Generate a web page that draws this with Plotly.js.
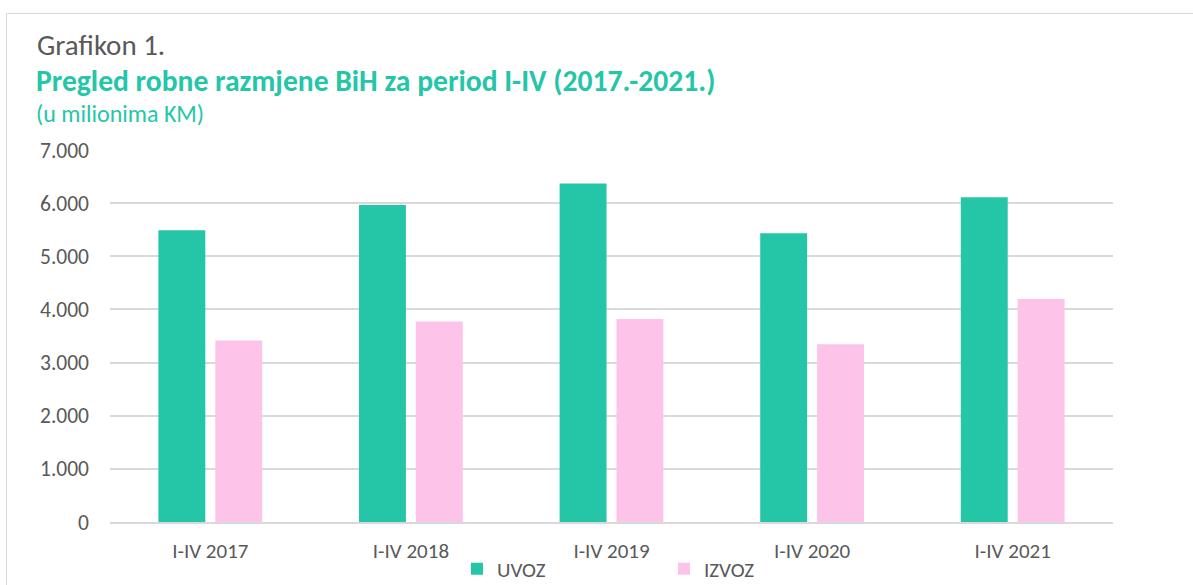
<!DOCTYPE html>
<html>
<head>
<meta charset="utf-8">
<script src="https://cdn.plot.ly/plotly-3.0.1.min.js"></script>
<style>
  html, body { margin: 0; padding: 0; background: #fff; }
  #wrap { position: relative; width: 1193px; height: 585px; overflow: hidden; }
  #chart { width: 1193px; height: 585px; }
  #frame { position: absolute; left: 6px; top: 13px; width: 1200px; height: 700px;
           border: 1.5px solid #D9D9D9; box-sizing: border-box; pointer-events: none; }
</style>
</head>
<body>
<div id="wrap">
  <div id="chart"></div>
  <div id="frame"></div>
</div>
<script>
const categories = ["I-IV 2017", "I-IV 2018", "I-IV 2019", "I-IV 2020", "I-IV 2021"];
const uvoz = [5490, 5965, 6371, 5433, 6109];
const izvoz = [3413, 3775, 3820, 3345, 4195];
const yTicks = [0, 1000, 2000, 3000, 4000, 5000, 6000, 7000];

const FONT = "Carlito, Lato, 'Open Sans', sans-serif";
const TEAL = "#24C6A7";
const PINK = "#FEC3E9";
const GREY = "#595959";

const data = [
  { type: "bar", name: "UVOZ", x: categories, y: uvoz, marker: { color: TEAL }, hoverinfo: "x+y" },
  { type: "bar", name: "IZVOZ", x: categories, y: izvoz, marker: { color: PINK }, hoverinfo: "x+y" }
];

const PH = 372, PW = 1003, ML = 110, MB = 63;
const py = (pix) => (585 - MB - pix) / PH;   // pixel y -> paper y
const px = (pix) => (pix - ML) / PW;          // pixel x -> paper x

const layout = {
  width: 1193, height: 585,
  paper_bgcolor: "#fff", plot_bgcolor: "#fff",
  separators: ",.",
  margin: { l: ML, r: 80, t: 150, b: MB, autoexpand: false },
  font: { family: FONT, color: GREY, size: 21 },
  barmode: "group",
  bargap: 0.433,
  bargroupgap: 0.175,
  showlegend: true,
  legend: {
    orientation: "h", xref: "paper", x: px(457), xanchor: "left",
    yref: "container", y: (585 - 569) / 585, yanchor: "middle",
    font: { family: FONT, size: 21, color: GREY },
    entrywidth: 162, entrywidthmode: "pixels",
    itemwidth: 30, bgcolor: "rgba(0,0,0,0)"
  },
  xaxis: {
    type: "category",
    showgrid: false, zeroline: false,
    showline: true, linecolor: "#D9D9D9", linewidth: 1.5,
    ticks: "", ticklabelstandoff: 9,
    tickfont: { family: FONT, size: 21, color: GREY }
  },
  yaxis: {
    range: [0, 7000],
    tickvals: yTicks, tickformat: ",d",
    showgrid: true, gridcolor: "#D9D9D9", gridwidth: 1.5,
    zeroline: false, showline: false, ticks: "",
    ticklabelstandoff: 20,
    tickfont: { family: FONT, size: 21.5, color: GREY }
  },
  annotations: [
    { xref: "paper", yref: "paper", x: px(35), y: py(45), xanchor: "left", yanchor: "middle",
      showarrow: false, text: "Grafikon 1.", font: { family: FONT, size: 29, color: GREY } },
    { xref: "paper", yref: "paper", x: px(34), y: py(81), xanchor: "left", yanchor: "middle",
      showarrow: false, text: "<b>Pregled robne razmjene BiH za period I-IV (2017.-2021.)</b>",
      font: { family: FONT, size: 29.6, color: TEAL } },
    { xref: "paper", yref: "paper", x: px(34), y: py(113), xanchor: "left", yanchor: "middle",
      showarrow: false, text: "(u milionima KM)", font: { family: FONT, size: 24, color: TEAL } }
  ]
};

Plotly.newPlot("chart", data, layout, { displayModeBar: false, responsive: false });
</script>
</body>
</html>
